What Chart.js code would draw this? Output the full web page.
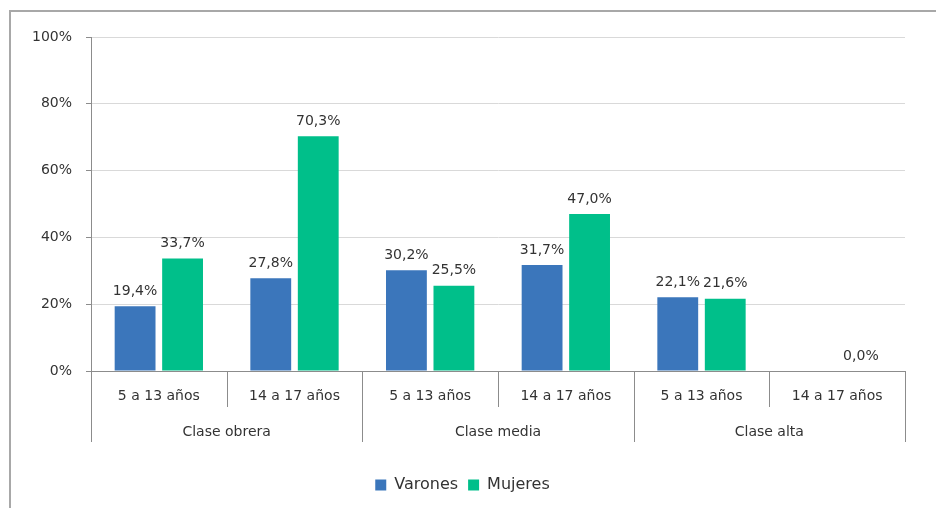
<!DOCTYPE html>
<html><head><meta charset="utf-8">
<script src="https://cdn.jsdelivr.net/npm/chart.js@4/dist/chart.umd.min.js"></script>
<style>
html,body{margin:0;padding:0;background:#fff;overflow:hidden;width:936px;height:508px;}
#frame{position:absolute;left:9px;top:10px;width:1000px;height:600px;border:2px solid #a8a8a8;box-sizing:border-box;}
#wrap{position:absolute;left:0;top:0;width:936px;height:508px;}
</style></head>
<body>
<div id="frame"></div>
<div id="wrap"><canvas id="c" width="936" height="508"></canvas></div>
<script>
const ageGroups = ['5 a 13 años','14 a 17 años','5 a 13 años','14 a 17 años','5 a 13 años','14 a 17 años'];
const classes = ['Clase obrera','Clase media','Clase alta'];
const varones = [19.4, 27.8, 30.2, 31.7, 22.1, null];
const mujeres = [33.7, 70.3, 25.5, 47.0, 21.6, 0.0];
const yTicks = [0, 20, 40, 60, 80, 100];

const FONT = 'DejaVu Sans';
const fmt = v => v.toFixed(1).replace('.', ',') + '%';

const labelPlugin = {
  id: 'valueLabels',
  afterDatasetsDraw(chart) {
    const ctx = chart.ctx;
    ctx.save();
    ctx.font = '14px "' + FONT + '"';
    ctx.fillStyle = '#333';
    ctx.textAlign = 'center';
    ctx.textBaseline = 'bottom';
    chart.data.datasets.forEach((ds, di) => {
      const meta = chart.getDatasetMeta(di);
      meta.data.forEach((el, i) => {
        const v = ds.data[i];
        if (v === null || v === undefined) return;
        ctx.fillText(fmt(v), el.x, el.y - 8);
      });
    });
    ctx.restore();
  }
};

const sepPlugin = {
  id: 'separators',
  afterDraw(chart) {
    const x = chart.scales.x, x2 = chart.scales.x2;
    const ctx = chart.ctx;
    const step = x.getPixelForValue(1) - x.getPixelForValue(0);
    ctx.save();
    ctx.strokeStyle = '#8c8c8c';
    ctx.lineWidth = 1;
    for (let i = 0; i <= ageGroups.length; i++) {
      const px = Math.round(x.getPixelForValue(0) - step / 2 + i * step) + 0.5;
      const longLine = (i % 2 === 0);
      ctx.beginPath();
      ctx.moveTo(px, x.top);
      ctx.lineTo(px, longLine ? x2.top + 35 : x.bottom);
      ctx.stroke();
    }
    ctx.restore();
  }
};

new Chart(document.getElementById('c'), {
  type: 'bar',
  data: {
    labels: ageGroups,
    datasets: [
      { label: 'Varones', data: varones, backgroundColor: '#3b76bb', categoryPercentage: 0.7, barPercentage: 0.86 },
      { label: 'Mujeres', data: mujeres, backgroundColor: '#00bf8a', categoryPercentage: 0.7, barPercentage: 0.86 }
    ]
  },
  options: {
    responsive: false,
    animation: false,
    layout: { padding: { left: 20, right: 31, top: 37, bottom: 5 } },
    plugins: {
      legend: {
        position: 'bottom',
        labels: { font: { family: FONT, size: 16 }, color: '#333', boxWidth: 11, boxHeight: 11, padding: 10 }
      },
      tooltip: { enabled: false }
    },
    scales: {
      y: {
        min: 0, max: 100,
        afterBuildTicks: s => { s.ticks = yTicks.map(v => ({ value: v })); },
        ticks: { callback: v => v + '%', font: { family: FONT, size: 14 }, color: '#333', padding: 14 },
        grid: { color: '#d9d9d9', tickColor: '#8c8c8c', tickLength: 5 },
        border: { color: '#8c8c8c' },
        afterFit: s => { s.width = 71; }
      },
      x: {
        grid: { display: false, drawTicks: false },
        border: { display: true, color: '#8c8c8c' },
        ticks: { font: { family: FONT, size: 14 }, color: '#333', padding: 17, maxRotation: 0, autoSkip: false },
        afterFit: s => { s.height = 36; }
      },
      x2: {
        type: 'category',
        position: 'bottom',
        labels: classes,
        offset: true,
        grid: { display: false, drawTicks: false },
        border: { display: false },
        ticks: { font: { family: FONT, size: 14 }, color: '#333', padding: 17, maxRotation: 0, autoSkip: false },
        afterFit: s => { s.height = 60; }
      }
    }
  },
  plugins: [labelPlugin, sepPlugin]
});
</script>
</body></html>
